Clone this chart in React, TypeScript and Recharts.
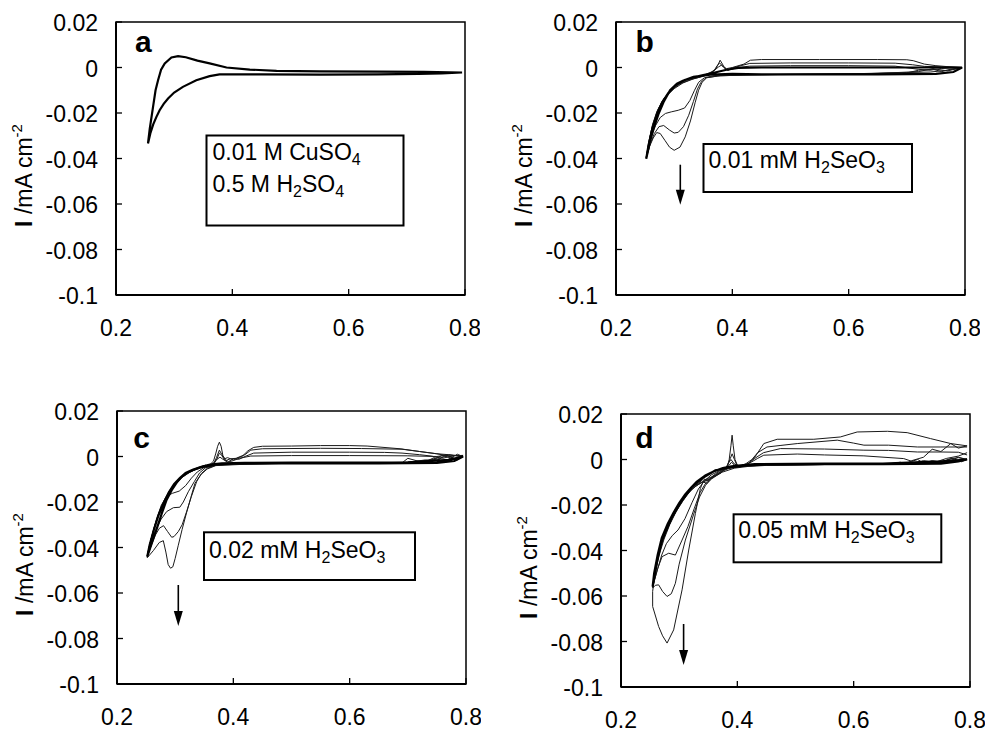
import React from 'react';
import { LineChart, Line, XAxis, YAxis, ReferenceArea } from 'recharts';

type Pt = [number, number];

const FONT = '"Liberation Sans", Arial, Helvetica, sans-serif';

const xTicks = [0.2, 0.4, 0.6, 0.8];
const xTickLabels = ['0.2', '0.4', '0.6', '0.8'];
const yTicks = [-0.1, -0.08, -0.06, -0.04, -0.02, 0, 0.02];
const yTickLabels = ['-0.1', '-0.08', '-0.06', '-0.04', '-0.02', '0', '0.02'];

// ---------- panel a : 0.01 M CuSO4 / 0.5 M H2SO4 ----------
const aCycle1: Pt[] = [
  [0.795, -0.0022], [0.76, -0.0026], [0.72, -0.0028], [0.65, -0.003], [0.55, -0.0031], [0.45, -0.003],
  [0.378, -0.003], [0.361, -0.0038], [0.338, -0.0056], [0.315, -0.0085], [0.3, -0.011], [0.2895, -0.0136],
  [0.282, -0.016], [0.275, -0.0188], [0.2695, -0.0217], [0.264, -0.025], [0.259, -0.029], [0.255, -0.0334],
  [0.258, -0.027], [0.2637, -0.0173], [0.268, -0.01], [0.2723, -0.0056], [0.2775, -0.001], [0.2838, 0.0018],
  [0.2953, 0.0044], [0.3067, 0.005], [0.32, 0.0045], [0.34, 0.003], [0.361, 0.0018], [0.39, 0.0],
  [0.43, -0.0009], [0.476, -0.0015], [0.55, -0.0017], [0.65, -0.0018], [0.73, -0.0019], [0.795, -0.0022],
];

// ---------- panel b : 0.01 mM H2SeO3 ----------
const bCycle1: Pt[] = [
  [0.795, 0.0], [0.78, -0.002], [0.75, -0.0028], [0.65, -0.003], [0.55, -0.003], [0.45, -0.003], [0.4, -0.0028],
  [0.362, -0.0031], [0.3333, -0.0041], [0.315, -0.0058], [0.3048, -0.0071], [0.293, -0.01], [0.2818, -0.0152],
  [0.273, -0.0205], [0.2646, -0.0269], [0.258, -0.033], [0.252, -0.0401],
  [0.256, -0.034], [0.262, -0.0275], [0.27, -0.021], [0.279, -0.0155], [0.29, -0.0112], [0.302, -0.0078],
  [0.318, -0.0055], [0.335, -0.0042], [0.35, -0.0033], [0.37, -0.0022], [0.39, -0.001], [0.41, -0.0002],
  [0.45, 0.0], [0.55, 0.0], [0.65, 0.0], [0.75, 0.0], [0.795, 0.0],
];
const bCycle2: Pt[] = [
  [0.795, 0.0], [0.77, -0.0012], [0.74, -0.002], [0.7, -0.0022], [0.6, -0.0028], [0.5, -0.003], [0.42, -0.0032],
  [0.37, -0.0035], [0.352, -0.0045], [0.342, -0.0065], [0.335, -0.01], [0.327, -0.0145], [0.318, -0.0178],
  [0.307, -0.0188], [0.295, -0.0195], [0.285, -0.0202], [0.276, -0.022], [0.268, -0.0255], [0.261, -0.03],
  [0.256, -0.035], [0.252, -0.0395],
  [0.256, -0.0335], [0.262, -0.026], [0.27, -0.0195], [0.28, -0.0145], [0.292, -0.0105], [0.306, -0.0075],
  [0.322, -0.0055], [0.34, -0.0042], [0.355, -0.003], [0.368, -0.0015], [0.376, 0.0002], [0.381, 0.001],
  [0.386, 0.0], [0.392, -0.0012], [0.398, -0.0008], [0.41, 0.0], [0.43, 0.0006], [0.5, 0.0008], [0.6, 0.0008],
  [0.68, 0.0006], [0.72, -0.0008], [0.74, -0.0012], [0.76, -0.0004], [0.795, 0.0],
];
const bCycle3: Pt[] = [
  [0.795, 0.0], [0.77, -0.0015], [0.745, -0.0005], [0.72, -0.0018], [0.65, -0.0026], [0.55, -0.003],
  [0.45, -0.0032], [0.38, -0.0036], [0.355, -0.0045], [0.346, -0.0065], [0.34, -0.0095], [0.333, -0.015],
  [0.325, -0.021], [0.316, -0.026], [0.307, -0.0285], [0.3, -0.0288], [0.292, -0.0275], [0.282, -0.0255],
  [0.274, -0.026], [0.266, -0.029], [0.259, -0.0335], [0.252, -0.0395],
  [0.257, -0.032], [0.263, -0.025], [0.272, -0.0185], [0.283, -0.0135], [0.296, -0.0098], [0.31, -0.0072],
  [0.327, -0.0054], [0.345, -0.0042], [0.36, -0.003], [0.37, -0.0012], [0.376, 0.0015], [0.379, 0.0032],
  [0.383, 0.0015], [0.388, -0.0008], [0.393, -0.0012], [0.4, -0.0002], [0.415, 0.0008], [0.43, 0.0018],
  [0.5, 0.002], [0.6, 0.002], [0.68, 0.0019], [0.71, 0.0012], [0.73, 0.0005], [0.76, 0.0003], [0.795, 0.0],
];
const bCycle4: Pt[] = [
  [0.795, 0.0], [0.775, -0.0008], [0.76, -0.0018], [0.745, -0.0008], [0.72, -0.0012], [0.7, -0.0024],
  [0.6, -0.0028], [0.5, -0.003], [0.42, -0.0033], [0.375, -0.0037], [0.356, -0.0045], [0.348, -0.0065],
  [0.342, -0.01], [0.336, -0.0155], [0.328, -0.0235], [0.319, -0.0305], [0.31, -0.035], [0.3, -0.0364],
  [0.292, -0.035], [0.284, -0.032], [0.276, -0.029], [0.27, -0.0286], [0.264, -0.031], [0.258, -0.0345],
  [0.252, -0.04],
  [0.258, -0.031], [0.265, -0.024], [0.274, -0.0178], [0.286, -0.0128], [0.3, -0.0093], [0.315, -0.0068],
  [0.333, -0.005], [0.35, -0.0038], [0.362, -0.0025], [0.37, -0.0008], [0.374, 0.0008], [0.378, 0.002],
  [0.384, 0.0005], [0.39, -0.0005], [0.4, 0.0], [0.42, 0.0015], [0.431, 0.0032], [0.45, 0.0035],
  [0.55, 0.0035], [0.65, 0.0035], [0.7, 0.0034], [0.711, 0.003], [0.73, 0.0015], [0.75, 0.0008],
  [0.769, 0.0004], [0.795, 0.0],
];

// ---------- panel c : 0.02 mM H2SeO3 ----------
const cCycle1: Pt[] = [
  [0.795, 0.0], [0.78, -0.002], [0.75, -0.0028], [0.65, -0.003], [0.55, -0.003], [0.45, -0.003], [0.4, -0.003],
  [0.371, -0.0035], [0.3427, -0.0048], [0.33, -0.006], [0.3198, -0.0072], [0.31, -0.0092], [0.3026, -0.0115],
  [0.294, -0.0148], [0.2854, -0.019], [0.277, -0.025], [0.268, -0.032], [0.26, -0.038], [0.252, -0.044],
  [0.256, -0.039], [0.263, -0.0325], [0.271, -0.026], [0.28, -0.0205], [0.289, -0.0158], [0.298, -0.0122],
  [0.308, -0.0095], [0.318, -0.0072], [0.33, -0.0058], [0.345, -0.0045], [0.36, -0.0035], [0.38, -0.003],
  [0.42, -0.0028], [0.5, -0.0027], [0.6, -0.0027], [0.7, -0.0026], [0.77, -0.0015], [0.795, 0.0],
];
const cCycle2: Pt[] = [
  [0.795, 0.0], [0.78, -0.0012], [0.76, 0.0005], [0.74, -0.0015], [0.7, -0.0025], [0.6, -0.003], [0.5, -0.003],
  [0.42, -0.0032], [0.37, -0.0036], [0.35, -0.0048], [0.338, -0.0068], [0.328, -0.0095], [0.318, -0.0128],
  [0.307, -0.0152], [0.295, -0.0162], [0.285, -0.0175], [0.276, -0.0215], [0.268, -0.0275], [0.26, -0.035],
  [0.252, -0.0435],
  [0.257, -0.038], [0.264, -0.031], [0.272, -0.025], [0.281, -0.0195], [0.29, -0.015], [0.3, -0.0118],
  [0.31, -0.0092], [0.322, -0.007], [0.335, -0.0058], [0.348, -0.0047], [0.358, -0.0042], [0.365, -0.003],
  [0.372, -0.0012], [0.377, -0.0003], [0.382, -0.0012], [0.39, -0.0025], [0.4, -0.0018], [0.41, -0.0008],
  [0.43, 0.0002], [0.5, 0.0004], [0.6, 0.0004], [0.7, 0.0003], [0.75, 0.0], [0.77, 0.0008], [0.795, 0.0],
];
const cCycle3: Pt[] = [
  [0.795, 0.0], [0.785, -0.0015], [0.77, 0.0005], [0.75, -0.0012], [0.72, -0.0022], [0.7, -0.0008],
  [0.69, -0.0028], [0.6, -0.003], [0.5, -0.003], [0.42, -0.0032], [0.37, -0.0037], [0.352, -0.005],
  [0.342, -0.0072], [0.333, -0.011], [0.3226, -0.0155], [0.314, -0.02], [0.308, -0.0223], [0.297, -0.0225],
  [0.2854, -0.0242], [0.276, -0.0275], [0.268, -0.0315], [0.26, -0.037], [0.252, -0.0438],
  [0.257, -0.038], [0.265, -0.0305], [0.274, -0.0235], [0.284, -0.018], [0.294, -0.014], [0.305, -0.0108],
  [0.316, -0.008], [0.328, -0.006], [0.34, -0.0048], [0.35, -0.004], [0.358, -0.0045], [0.366, -0.0035],
  [0.372, -0.001], [0.376, 0.0015], [0.38, 0.0005], [0.385, -0.0015], [0.392, -0.0022], [0.4, -0.001],
  [0.41, -0.0012], [0.42, 0.0], [0.435, 0.0015], [0.5, 0.0019], [0.6, 0.0019], [0.66, 0.0018], [0.69, 0.0015],
  [0.72, 0.0008], [0.74, 0.0002], [0.76, -0.0008], [0.78, 0.0005], [0.795, 0.0],
];
const cCycle4: Pt[] = [
  [0.795, 0.0005], [0.78, -0.001], [0.765, 0.0008], [0.75, -0.002], [0.73, -0.0015], [0.7, -0.0026],
  [0.6, -0.003], [0.5, -0.003], [0.42, -0.0033], [0.37, -0.0038], [0.355, -0.0052], [0.345, -0.0075],
  [0.337, -0.011], [0.328, -0.0175], [0.32, -0.024], [0.312, -0.03], [0.3054, -0.033], [0.298, -0.0352],
  [0.294, -0.0355], [0.287, -0.033], [0.28, -0.0304], [0.273, -0.0315], [0.266, -0.0345], [0.259, -0.039],
  [0.252, -0.044],
  [0.258, -0.037], [0.267, -0.029], [0.277, -0.022], [0.288, -0.0165], [0.299, -0.0125], [0.31, -0.0095],
  [0.322, -0.0072], [0.335, -0.0055], [0.345, -0.0045], [0.352, -0.0038], [0.36, -0.0048], [0.366, -0.0035],
  [0.371, -0.0005], [0.376, 0.0028], [0.38, 0.001], [0.385, -0.001], [0.39, -0.0005], [0.4, -0.0015],
  [0.41, -0.0002], [0.42, 0.0008], [0.43, 0.0028], [0.45, 0.0034], [0.55, 0.0036], [0.62, 0.0035],
  [0.69, 0.0032], [0.72, 0.0022], [0.75, 0.0012], [0.77, 0.0002], [0.795, 0.0005],
];
const cCycle5: Pt[] = [
  [0.795, 0.0], [0.785, 0.001], [0.77, -0.0012], [0.76, -0.0022], [0.745, -0.0005], [0.73, -0.0024],
  [0.7, -0.003], [0.6, -0.003], [0.5, -0.003], [0.42, -0.0034], [0.37, -0.004], [0.355, -0.0055],
  [0.345, -0.0078], [0.34, -0.0095], [0.334, -0.0118], [0.327, -0.018], [0.3198, -0.0245], [0.312, -0.032],
  [0.3054, -0.039], [0.3, -0.0448], [0.296, -0.0485], [0.292, -0.0491], [0.288, -0.0475], [0.284, -0.042],
  [0.2796, -0.037], [0.2727, -0.0378], [0.2624, -0.0414], [0.252, -0.0445],
  [0.259, -0.036], [0.268, -0.0285], [0.278, -0.0215], [0.289, -0.016], [0.3, -0.0122], [0.312, -0.0092],
  [0.325, -0.007], [0.338, -0.0053], [0.35, -0.0042], [0.36, -0.0035], [0.366, -0.002], [0.37, 0.0015],
  [0.373, 0.0045], [0.376, 0.0063], [0.379, 0.0045], [0.382, 0.0005], [0.387, -0.0018], [0.395, -0.001],
  [0.405, -0.0008], [0.415, 0.0], [0.425, 0.0025], [0.435, 0.004], [0.45, 0.0045], [0.5, 0.0046],
  [0.55, 0.0048], [0.6, 0.0048], [0.63, 0.0046], [0.6866, 0.0034], [0.72, 0.0022], [0.7496, 0.0012],
  [0.77, 0.0008], [0.795, 0.0],
];

// ---------- panel d : 0.05 mM H2SeO3 ----------
const dCycle1: Pt[] = [
  [0.795, 0.0], [0.78, -0.0008], [0.75, -0.0018], [0.65, -0.002], [0.55, -0.002], [0.45, -0.0022],
  [0.42, -0.0025], [0.391, -0.0032], [0.3623, -0.0047], [0.3394, -0.0083], [0.3222, -0.012], [0.305, -0.0178],
  [0.2878, -0.0252], [0.2706, -0.0354], [0.262, -0.045], [0.2544, -0.0559],
  [0.257, -0.05], [0.263, -0.042], [0.27, -0.0345], [0.28, -0.0285], [0.29, -0.0235], [0.3, -0.0192],
  [0.31, -0.0155], [0.32, -0.0125], [0.33, -0.0098], [0.345, -0.007], [0.36, -0.0052], [0.375, -0.0038],
  [0.39, -0.003], [0.41, -0.0025], [0.43, -0.002], [0.55, -0.0018], [0.65, -0.0018], [0.75, -0.0008],
  [0.795, 0.0],
];
const dCycle2: Pt[] = [
  [0.795, 0.0], [0.785, -0.001], [0.77, 0.0005], [0.75, -0.0012], [0.72, -0.0015], [0.7, -0.0022],
  [0.65, -0.002], [0.55, -0.0022], [0.45, -0.0024], [0.42, -0.0028], [0.39, -0.0035], [0.37, -0.0048],
  [0.355, -0.0068], [0.343, -0.0095], [0.333, -0.013], [0.322, -0.019], [0.31, -0.026], [0.298, -0.031],
  [0.288, -0.0335], [0.278, -0.037], [0.27, -0.042], [0.262, -0.049], [0.2544, -0.056],
  [0.258, -0.05], [0.264, -0.0415], [0.272, -0.034], [0.282, -0.0275], [0.292, -0.0225], [0.303, -0.018],
  [0.314, -0.0145], [0.324, -0.0118], [0.333, -0.0105], [0.342, -0.0085], [0.35, -0.0092], [0.36, -0.0075],
  [0.37, -0.0062], [0.38, -0.004], [0.386, -0.0025], [0.39, -0.0012], [0.395, -0.0025], [0.405, -0.0028],
  [0.415, -0.0022], [0.425, -0.001], [0.435, 0.0005], [0.4455, 0.0019], [0.503, 0.0024], [0.55, 0.002],
  [0.6176, 0.0016], [0.686, 0.0004], [0.7, -0.0008], [0.71, 0.0], [0.72, -0.0015], [0.735, -0.0005],
  [0.75, -0.0012], [0.765, 0.0003], [0.78, 0.0008], [0.795, 0.0],
];
const dCycle3: Pt[] = [
  [0.795, 0.0], [0.78, 0.001], [0.76, -0.0012], [0.73, -0.0018], [0.68, -0.002], [0.55, -0.0022],
  [0.45, -0.0024], [0.41, -0.0028], [0.385, -0.0036], [0.37, -0.005], [0.358, -0.0072], [0.346, -0.0102],
  [0.336, -0.0145], [0.326, -0.0215], [0.315, -0.0295], [0.305, -0.0354], [0.2935, -0.042], [0.282, -0.0412],
  [0.2706, -0.0427], [0.263, -0.048], [0.2544, -0.0558],
  [0.259, -0.049], [0.266, -0.0405], [0.275, -0.033], [0.285, -0.027], [0.296, -0.0215], [0.308, -0.017],
  [0.32, -0.0135], [0.33, -0.0112], [0.34, -0.0098], [0.348, -0.0105], [0.356, -0.0085], [0.366, -0.0068],
  [0.376, -0.005], [0.383, -0.0025], [0.388, 0.0005], [0.391, 0.0025], [0.395, 0.0], [0.4, -0.003],
  [0.41, -0.003], [0.42, -0.0015], [0.43, 0.0005], [0.445, 0.003], [0.474, 0.0048], [0.55, 0.0046],
  [0.6176, 0.0041], [0.66, 0.004], [0.7095, 0.0033], [0.75, 0.0033], [0.78, 0.0032], [0.795, 0.002],
];
const dCycle4: Pt[] = [
  [0.795, 0.003], [0.78, 0.0015], [0.76, 0.0005], [0.74, -0.0012], [0.72, -0.0005], [0.7, -0.0018],
  [0.68, -0.0022], [0.55, -0.0022], [0.45, -0.0025], [0.41, -0.003], [0.385, -0.004], [0.37, -0.0055],
  [0.355, -0.0082], [0.345, -0.0115], [0.335, -0.0165], [0.325, -0.024], [0.3107, -0.0354], [0.3, -0.046],
  [0.2935, -0.0544], [0.2865, -0.059], [0.2792, -0.0602], [0.2715, -0.058], [0.2647, -0.0551],
  [0.259, -0.0553], [0.2544, -0.0565],
  [0.259, -0.048], [0.267, -0.0395], [0.277, -0.032], [0.288, -0.026], [0.3, -0.0205], [0.312, -0.016],
  [0.323, -0.0128], [0.333, -0.011], [0.343, -0.0095], [0.352, -0.0088], [0.362, -0.0072], [0.372, -0.0058],
  [0.38, -0.004], [0.385, -0.0015], [0.389, 0.0], [0.395, -0.002], [0.405, -0.003], [0.415, -0.0018],
  [0.425, 0.0], [0.435, 0.003], [0.451, 0.0055], [0.475, 0.0062], [0.503, 0.007], [0.5718, 0.0085],
  [0.6, 0.0072], [0.6176, 0.0063], [0.66, 0.0063], [0.7095, 0.0055], [0.75, 0.0055], [0.795, 0.0055],
];
const dCycle5: Pt[] = [
  [0.795, 0.006], [0.78, 0.005], [0.767, 0.007], [0.75, 0.0035], [0.735, 0.0045], [0.72, 0.001],
  [0.7, -0.0005], [0.69, -0.0018], [0.68, -0.0012], [0.66, -0.002], [0.55, -0.0022], [0.45, -0.0026],
  [0.42, -0.003], [0.395, -0.0038], [0.375, -0.0055], [0.36, -0.0072], [0.3422, -0.0091], [0.3365, -0.0127],
  [0.3279, -0.0237], [0.3164, -0.0398], [0.305, -0.0573], [0.2905, -0.0749], [0.2792, -0.0807],
  [0.2715, -0.0775], [0.2647, -0.0734], [0.2544, -0.0646],
  [0.2544, -0.058], [0.258, -0.051], [0.265, -0.0425], [0.274, -0.035], [0.284, -0.0285], [0.295, -0.0228],
  [0.307, -0.018], [0.318, -0.0142], [0.328, -0.0118], [0.338, -0.0102], [0.347, -0.0092], [0.357, -0.0078],
  [0.367, -0.0062], [0.376, -0.0045], [0.383, -0.003], [0.386, 0.0], [0.389, 0.006], [0.391, 0.0107],
  [0.393, 0.006], [0.396, 0.0], [0.4, -0.0025], [0.41, -0.003], [0.42, -0.0018], [0.43, 0.001],
  [0.4455, 0.007], [0.4685, 0.0089], [0.5315, 0.0089], [0.577, 0.0099], [0.606, 0.0121], [0.658, 0.0124],
  [0.692, 0.0118], [0.732, 0.0092], [0.767, 0.007], [0.795, 0.006],
];

const toPts = (arr: Pt[]) => arr.map(([x, y]) => ({ x, y }));

type Seg = { t: string; sub?: boolean };

const legendA: Seg[][] = [
  [{ t: '0.01 M CuSO' }, { t: '4', sub: true }],
  [{ t: '0.5 M H' }, { t: '2', sub: true }, { t: 'SO' }, { t: '4', sub: true }],
];
const legendB: Seg[][] = [[{ t: '0.01 mM H' }, { t: '2', sub: true }, { t: 'SeO' }, { t: '3', sub: true }]];
const legendC: Seg[][] = [[{ t: '0.02 mM H' }, { t: '2', sub: true }, { t: 'SeO' }, { t: '3', sub: true }]];
const legendD: Seg[][] = [[{ t: '0.05 mM H' }, { t: '2', sub: true }, { t: 'SeO' }, { t: '3', sub: true }]];

const W = 480;
const H = 340;
const PL = 116; // plot left inside chart
const PT = 22; // plot top inside chart
const PW = 349;
const PH = 273;

const YTick = (props: any) => {
  const { x, y, payload } = props;
  const i = yTicks.indexOf(payload.value);
  return (
    <g>
      <line x1={x} x2={x + 6} y1={y} y2={y} stroke="#000" strokeWidth={1.3} />
      <text x={x - 18} y={y + 9} textAnchor="end" fontSize={23} fontFamily={FONT} fill="#000">
        {i >= 0 ? yTickLabels[i] : String(payload.value)}
      </text>
    </g>
  );
};

const XTick = (props: any) => {
  const { x, y, payload } = props;
  const i = xTicks.indexOf(payload.value);
  return (
    <g>
      <line x1={x} x2={x} y1={y} y2={y - 6} stroke="#000" strokeWidth={1.3} />
      <text x={x} y={y + 40.5} textAnchor="middle" fontSize={23} fontFamily={FONT} fill="#000">
        {i >= 0 ? xTickLabels[i] : String(payload.value)}
      </text>
    </g>
  );
};

type Curve = { pts: Pt[]; thick?: boolean };

type PanelProps = {
  left: number;
  top: number;
  letter: string;
  letterX: number;
  letterY: number;
  curves: Curve[];
  legend: Seg[][];
  box: { x: number; y: number; w: number; h: number; tx: number; ty: number[] };
  arrow?: { x: number; y1: number; y2: number };
};

const LegendText = ({ segs, x, y }: { segs: Seg[]; x: number; y: number }) => {
  let prevSub = false;
  return (
    <text x={x} y={y} fontSize={23} fontFamily={FONT} fill="#000">
      {segs.map((s, i) => {
        let dy = 0;
        if (s.sub && !prevSub) dy = 5;
        if (!s.sub && prevSub) dy = -5;
        prevSub = !!s.sub;
        return (
          <tspan key={i} dy={dy} fontSize={s.sub ? 16 : 23}>
            {s.t}
          </tspan>
        );
      })}
    </text>
  );
};

const Panel = ({ left, top, letter, letterX, letterY, curves, legend, box, arrow }: PanelProps) => {
  const yLabX = PL - 84;
  const yLabY = PT + 153.5;
  return (
    <div style={{ position: 'absolute', left, top, width: W, height: H }}>
      <LineChart width={W} height={H} margin={{ top: PT, right: W - PL - PW, bottom: H - PT - PH - 45, left: 0 }}>
        <XAxis
          type="number"
          dataKey="x"
          domain={[0.2, 0.8]}
          ticks={xTicks}
          interval={0}
          height={45}
          tickSize={0}
          tickMargin={0}
          tickLine={false}
          axisLine={{ stroke: '#000', strokeWidth: 2 }}
          tick={(p: any) => <XTick {...p} />}
        />
        <YAxis
          type="number"
          dataKey="y"
          domain={[-0.1, 0.02]}
          ticks={yTicks}
          interval={0}
          width={PL}
          tickSize={0}
          tickMargin={0}
          tickLine={false}
          axisLine={{ stroke: '#000', strokeWidth: 2 }}
          tick={(p: any) => <YTick {...p} />}
        />
        <ReferenceArea
          x1={0.2}
          x2={0.8}
          y1={-0.1}
          y2={0.02}
          fill="#fff"
          fillOpacity={0}
          stroke="#000"
          strokeWidth={1.5}
          ifOverflow="visible"
        />
        {curves.map((c, i) => (
          <Line
            key={i}
            data={toPts(c.pts)}
            dataKey="y"
            type="linear"
            stroke={c.thick ? '#000' : '#1a1a1a'}
            strokeWidth={c.thick ? 2.2 : 1}
            dot={false}
            activeDot={false}
            isAnimationActive={false}
          />
        ))}
      </LineChart>
      <svg
        width={W}
        height={H}
        style={{ position: 'absolute', left: 0, top: 0, pointerEvents: 'none', overflow: 'visible' }}
      >
        <text x={PL + letterX} y={PT + letterY} fontSize={30} fontWeight="bold" fontFamily={FONT} fill="#000">
          {letter}
        </text>
        <rect x={PL + box.x} y={PT + box.y} width={box.w} height={box.h} fill="#fff" stroke="#000" strokeWidth={2} />
        {legend.map((segs, i) => (
          <LegendText key={i} segs={segs} x={PL + box.tx} y={PT + box.ty[i]} />
        ))}
        {arrow && (
          <g>
            <line x1={PL + arrow.x} x2={PL + arrow.x} y1={PT + arrow.y1} y2={PT + arrow.y2 - 12} stroke="#000" strokeWidth={1.6} />
            <polygon
              points={`${PL + arrow.x - 4.5},${PT + arrow.y2 - 15} ${PL + arrow.x + 4.5},${PT + arrow.y2 - 15} ${PL + arrow.x},${PT + arrow.y2}`}
              fill="#000"
            />
          </g>
        )}
        <text
          x={yLabX}
          y={yLabY}
          transform={`rotate(-90, ${yLabX}, ${yLabY})`}
          textAnchor="middle"
          fontSize={23}
          fontFamily={FONT}
          fill="#000"
        >
          <tspan fontWeight="bold">I</tspan>
          <tspan> /mA cm</tspan>
          <tspan fontSize={15} dy={-10}>-2</tspan>
        </text>
      </svg>
    </div>
  );
};

export default function App() {
  return (
    <div
      style={{
        position: 'absolute',
        left: 0,
        top: 0,
        width: 987,
        height: 731,
        overflow: 'hidden',
        background: '#fff',
        fontFamily: FONT,
      }}
    >
      <Panel
        left={0}
        top={0}
        letter="a"
        letterX={19}
        letterY={30}
        curves={[{ pts: aCycle1, thick: true }]}
        legend={legendA}
        box={{ x: 90.5, y: 113.5, w: 197, h: 90, tx: 96.5, ty: [138.4, 170] }}
      />
      <Panel
        left={500}
        top={0}
        letter="b"
        letterX={19.5}
        letterY={29.5}
        curves={[{ pts: bCycle2 }, { pts: bCycle3 }, { pts: bCycle4 }, { pts: bCycle1, thick: true }]}
        legend={legendB}
        box={{ x: 87.5, y: 122, w: 208.5, h: 48, tx: 92.5, ty: [146] }}
        arrow={{ x: 64.3, y1: 142.7, y2: 182.7 }}
      />
      <Panel
        left={1}
        top={389}
        letter="c"
        letterX={16.3}
        letterY={37.3}
        curves={[
          { pts: cCycle2 },
          { pts: cCycle3 },
          { pts: cCycle4 },
          { pts: cCycle5 },
          { pts: cCycle1, thick: true },
        ]}
        legend={legendC}
        box={{ x: 87, y: 121.3, w: 211, h: 47.7, tx: 92, ty: [147.3] }}
        arrow={{ x: 61.3, y1: 174, y2: 215 }}
      />
      <Panel
        left={505}
        top={392}
        letter="d"
        letterX={14.3}
        letterY={34.3}
        curves={[
          { pts: dCycle2 },
          { pts: dCycle3 },
          { pts: dCycle4 },
          { pts: dCycle5 },
          { pts: dCycle1, thick: true },
        ]}
        legend={legendD}
        box={{ x: 112.6, y: 100.3, w: 207.7, h: 48, tx: 117.3, ty: [124.3] }}
        arrow={{ x: 62.6, y1: 210, y2: 251 }}
      />
    </div>
  );
}
